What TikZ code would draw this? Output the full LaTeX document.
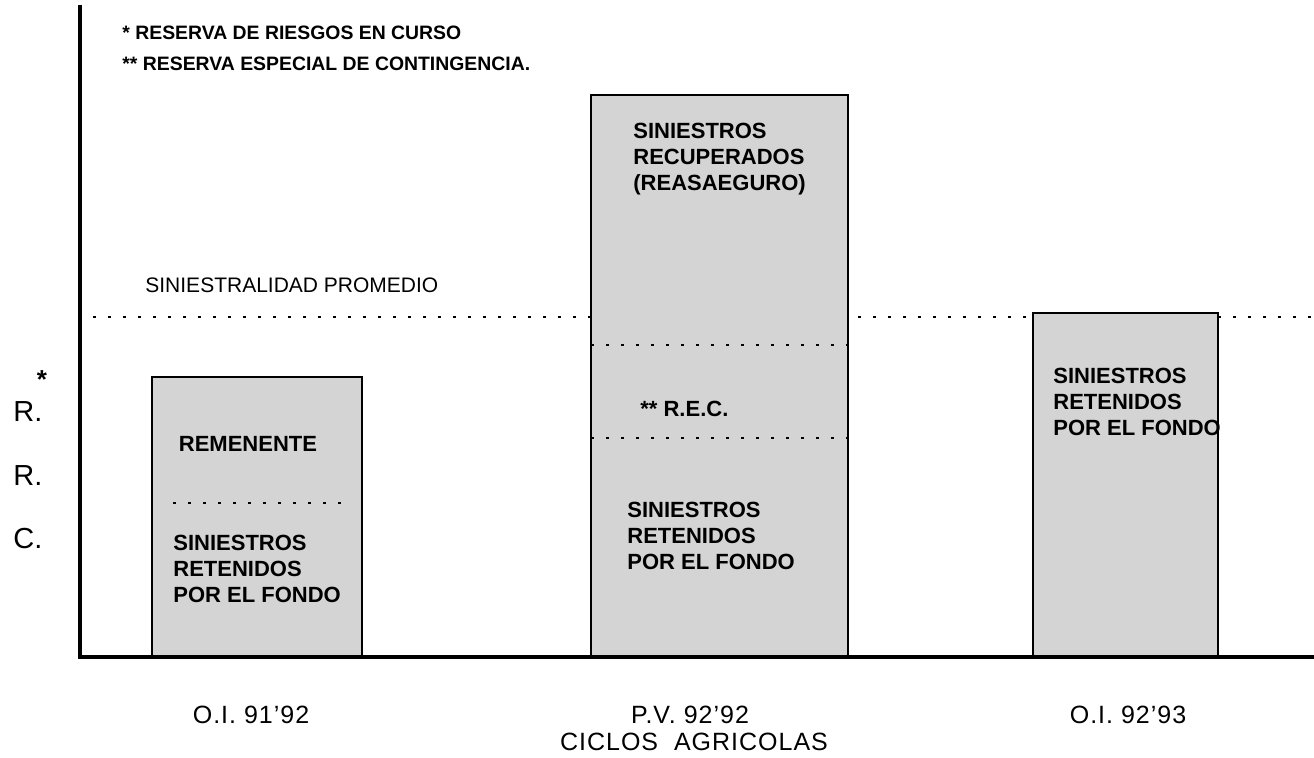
\documentclass[tikz,border=0pt]{standalone}
\usepackage{fontspec}
\setmainfont{Liberation Sans}
\begin{document}
\begin{tikzpicture}[x=0.5pt,y=-0.5pt,
    barra/.style={draw=black,line width=0.7pt,fill=black!17},
    punteada/.style={line width=1.1pt,dash pattern=on 1.5pt off 6pt},
    dentro/.style={font=\bfseries\fontsize{11}{13}\selectfont,align=left,inner sep=0pt,anchor=north west},
    nota/.style={font=\bfseries\fontsize{9.7}{11}\selectfont,inner sep=0pt,anchor=west},
    ciclo/.style={font=\fontsize{12.5}{15}\selectfont\addfontfeature{LetterSpace=4},inner sep=0pt},
    rrc/.style={font=\fontsize{14.5}{16}\selectfont,inner sep=0pt,anchor=west}]
    \useasboundingbox (0,0) rectangle (1314,758);
    \draw [punteada] (93,317)--(1314,317);
    \filldraw [barra] (152,377) rectangle (362,657);
    \filldraw [barra] (591,95) rectangle (848,657);
    \filldraw [barra] (1033,313) rectangle (1218,657);
    \draw [punteada] (173,503)--(343,503);
    \draw [punteada] (591,345)--(848,345);
    \draw [punteada] (591,438)--(848,438);
    \draw [line width=2pt] (80,5)--(80,657);
    \draw [line width=2pt] (78,657)--(1314,657);
    \node [nota] (n1) at (122,33) {* RESERVA DE RIESGOS EN CURSO};
    \node [nota] (n2) at (122,64) {** RESERVA ESPECIAL DE CONTINGENCIA.};
    \node [anchor=west,inner sep=0pt,font=\fontsize{10.5}{12}\selectfont] (prom) at (145,285) {SINIESTRALIDAD PROMEDIO};
    \node [font=\bfseries\fontsize{13}{14}\selectfont,inner sep=0pt] (ast) at (42,380) {*};
    \node [rrc] (r1) at (13,412) {R.};
    \node [rrc] (r2) at (13,476) {R.};
    \node [rrc] (c1) at (13,539) {C.};
    \node [dentro,anchor=center] (rem) at (248,444) {REMENENTE};
    \node [dentro] (ret1) at (173,535) {SINIESTROS\\RETENIDOS\\POR EL FONDO};
    \node [dentro] (rec) at (633,123) {SINIESTROS\\RECUPERADOS\\(REASAEGURO)};
    \node [dentro,anchor=west] (rescon) at (640,409) {** R.E.C.};
    \node [dentro] (ret2) at (627,502) {SINIESTROS\\RETENIDOS\\POR EL FONDO};
    \node [dentro] (ret3) at (1053,368) {SINIESTROS\\RETENIDOS\\POR EL FONDO};
    \node [ciclo] (c9192) at (251,715) {O.I. 91'92};
    \node [ciclo] (p9292) at (690,715) {P.V. 92'92};
    \node [ciclo] (eje) at (694,742) {CICLOS\ \ AGRICOLAS};
    \node [ciclo] (c9293) at (1128,715) {O.I. 92'93};
\end{tikzpicture}
\end{document}
